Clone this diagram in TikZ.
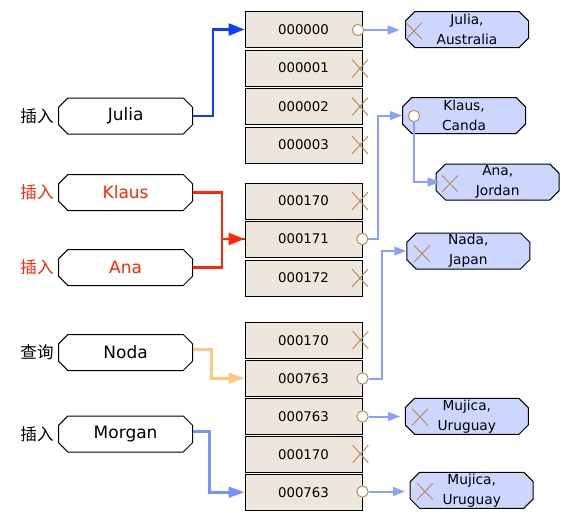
\documentclass[tikz,border=0pt]{standalone}
\usepackage{fontspec}
\setmainfont{DejaVu Sans}
\newfontfamily\cjk{Noto Sans CJK SC}
\usetikzlibrary{shapes.misc,arrows.meta}

\definecolor{bucketfill}{RGB}{237,230,220}
\definecolor{valuefill}{RGB}{205,214,255}
\definecolor{markbrown}{RGB}{184,140,92}
\definecolor{putred}{RGB}{255,38,0}
\definecolor{putblue}{RGB}{16,60,255}
\definecolor{linkblue}{RGB}{138,160,255}
\definecolor{morganblue}{RGB}{118,146,255}
\definecolor{getorange}{RGB}{255,200,130}

\tikzset{every picture/.style={line width=0.75pt}}
\tikzset{
  keybox/.style={draw, chamfered rectangle, chamfered rectangle xsep=3.5pt, chamfered rectangle ysep=3.5pt,
    minimum width=100.5pt, minimum height=27pt, inner sep=0pt, font=\fontsize{12.75}{15}\selectfont},
  oplabel/.style={inner sep=0pt, font=\cjk\fontsize{12.4}{14}\selectfont},
  bucket/.style={draw, fill=bucketfill, minimum width=87.75pt, minimum height=27pt, inner sep=0pt,
    font=\fontsize{10}{11}\selectfont},
  valbox/.style={draw, fill=valuefill, chamfered rectangle, chamfered rectangle xsep=3.5pt, chamfered rectangle ysep=3.5pt,
    minimum width=92.25pt, minimum height=27pt, inner xsep=0pt, inner ysep=-3.5pt, align=center,
    font=\fontsize{10.3}{15}\selectfont},
  hole/.style={circle, draw=markbrown, fill=white, inner sep=0pt, minimum size=8.5pt},
  xmark/.style={cross out, draw=markbrown, inner sep=0pt, minimum width=11pt, minimum height=12.5pt},
  putline/.style={line width=2pt, -{Triangle[length=12pt,width=9pt]}},
  getline/.style={line width=2.2pt, -{Triangle[length=12pt,width=8pt]}},
  link/.style={draw=linkblue, line width=1.5pt, -{Triangle[length=9pt,width=6.5pt]}}
}

\begin{document}
\begin{tikzpicture}[x=0.75pt,y=0.75pt,yscale=-1,xscale=1]
\useasboundingbox (0,0) rectangle (570,521);

%Shape: Key Boxes
\node [keybox] (julia) at (125.6,116) {Julia};
\node [keybox, text=putred] (klaus) at (125.6,192.5) {Klaus};
\node [keybox, text=putred] (ana) at (125.6,267.5) {Ana};
\node [keybox] (noda) at (125.6,352.5) {Noda};
\node [keybox] (morgan) at (125.6,434) {Morgan};

% Text Node
\node [oplabel] (opjulia) at (37,116) {插入};
% Text Node
\node [oplabel, text=putred] (opklaus) at (37,192.5) {插入};
% Text Node
\node [oplabel, text=putred] (opana) at (37,267.5) {插入};
% Text Node
\node [oplabel] (opnoda) at (37,352.5) {查询};
% Text Node
\node [oplabel] (opmorgan) at (37,434) {插入};

%Shape: Buckets
\node [bucket] (b0) at (303.5,29.5) {000000};
\node [bucket] (b1) at (303.5,68) {000001};
\node [bucket] (b2) at (303.5,106.2) {000002};
\node [bucket] (b3) at (303.5,145) {000003};
\node [bucket] (b4) at (303.5,201) {000170};
\node [bucket] (b5) at (303.5,239) {000171};
\node [bucket] (b6) at (303.5,278) {000172};
\node [bucket] (b7) at (303.5,340.3) {000170};
\node [bucket] (b8) at (303.5,378.2) {000763};
\node [bucket] (b9) at (303.5,416.2) {000763};
\node [bucket] (b10) at (303.5,454.2) {000170};
\node [bucket] (b11) at (303.5,492.2) {000763};

%Shape: Bucket Markers
\node [hole] (c0) at (358,30) {};
\node [xmark] (x1) at (360,68.5) {};
\node [xmark] (x2) at (360,106.5) {};
\node [xmark] (x3) at (360,145) {};
\node [xmark] (x4) at (360,201) {};
\node [hole] (c5) at (362.3,239) {};
\node [xmark] (x6) at (360,278) {};
\node [xmark] (x7) at (360.5,340) {};
\node [hole] (c8) at (362.5,378.5) {};
\node [hole] (c9) at (362.5,416.5) {};
\node [xmark] (x10) at (360.5,454) {};
\node [hole] (c11) at (362.5,491.5) {};

%Shape: Value Boxes
\node [valbox] (vjulia) at (467,29.5) {Julia,\\Australia};
\node [valbox] (vklaus) at (464,115.5) {Klaus,\\Canda};
\node [valbox] (vana) at (497.7,182) {Ana,\\Jordan};
\node [valbox] (vnada) at (468.3,251) {Nada,\\Japan};
\node [valbox] (vmujica) at (466.8,416.3) {Mujica,\\Uruguay};
\node [valbox] (vmujicab) at (471.7,490.3) {Mujica,\\Uruguay};

%Shape: Value Markers
\node [xmark, minimum height=11.5pt] (xv0) at (414,31) {};
\node [hole] (ck1) at (414,116) {};
\node [xmark, minimum height=11.5pt] (xv2) at (450,183.7) {};
\node [xmark, minimum height=11.5pt] (xv3) at (422,253.7) {};
\node [xmark, minimum height=11.5pt] (xv4) at (420,417) {};
\node [xmark, minimum height=11.5pt] (xv5) at (425,491.5) {};

%Straight Lines: puts and gets
\draw [putline, draw=putblue] (julia.east) -- ++(20,0) |- (b0.west);
\draw [line width=2pt, draw=putred] (ana.east) -- ++(29,0) |- (b5.west);
\draw [putline, draw=putred] (klaus.east) -- ++(29,0) |- (b5.west);
\draw [getline, draw=getorange] ([yshift=-2.6pt]noda.east) -- ++(18,0) |- (b8.west);
\draw [getline, draw=morganblue] ([yshift=-2pt]morgan.east) -- ++(16,0) |- (b11.west);

%Straight Lines: links
\draw [link, shorten >=4pt] (c0) -- (c0 -| vjulia.west);
\draw [link] (c5) -- ++(16,0) |- (vklaus.west);
\draw [link, shorten >=-3pt] (ck1) |- (vana.west);
\draw [link] (c8) -- ++(19.5,0) |- (vnada.west);
\draw [link, shorten >=3.5pt] (c9) -- (c9 -| vmujica.west);
\draw [link, shorten >=3.5pt] (c11) -- (c11 -| vmujicab.west);
\end{tikzpicture}
\end{document}
